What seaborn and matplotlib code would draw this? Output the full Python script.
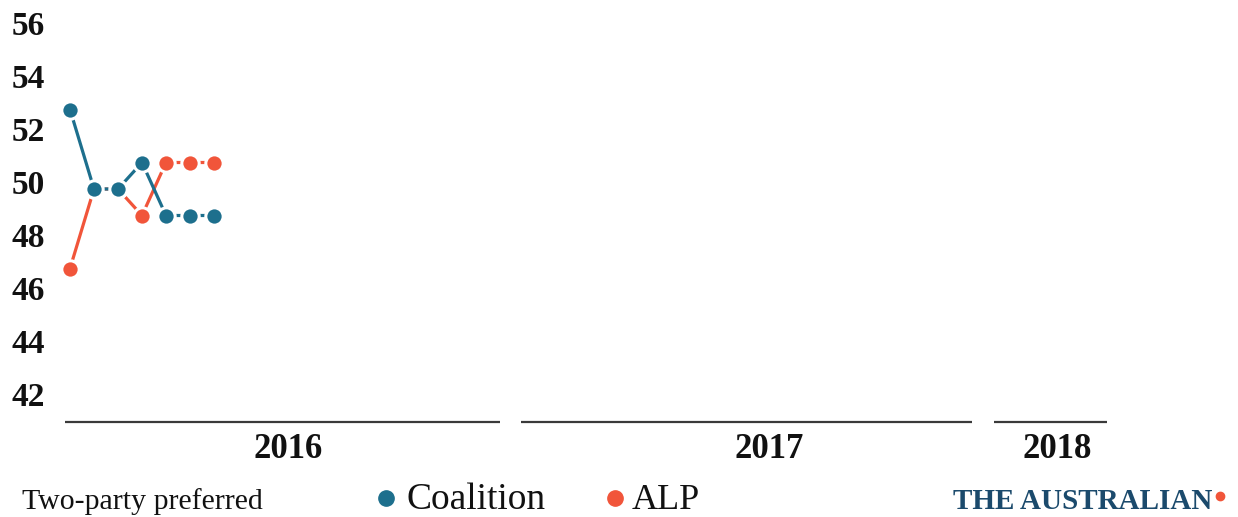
import matplotlib
matplotlib.use("Agg")
import matplotlib.pyplot as plt
import matplotlib.transforms as mtransforms
import seaborn as sns
import pandas as pd
from matplotlib.lines import Line2D

# ---- data ----
poll_index = [0, 1, 2, 3, 4, 5, 6]
coalition = [53, 50, 50, 51, 49, 49, 49]
alp = [47, 50, 50, 49, 51, 51, 51]
years = ["2016", "2017", "2018"]
year_start = [-0.2, 18.8, 38.5]
year_end = [17.9, 37.6, 43.2]
year_label_x = [9.08, 29.15, 41.15]
y_ticks = [42, 44, 46, 48, 50, 52, 54, 56]

COAL = "#1d6f8d"
ALPC = "#f1553a"

df = pd.DataFrame({
    "poll": poll_index * 2,
    "value": coalition + alp,
    "party": ["Coalition"] * len(coalition) + ["ALP"] * len(alp),
})

sns.set_theme(style="white")
plt.rcParams["font.family"] = ["Liberation Serif", "DejaVu Serif"]

W, H = 1238, 517
fig = plt.figure(figsize=(W / 100, H / 100), dpi=100)
ax = fig.add_axes([55 / W, 0, 1 - 55 / W, 1])

sns.lineplot(data=df, x="poll", y="value", hue="party",
             palette={"Coalition": COAL, "ALP": ALPC},
             hue_order=["ALP", "Coalition"],
             marker="o", markersize=12.5, markeredgecolor="white",
             markeredgewidth=2.2, linewidth=2.3, legend=False, ax=ax,
             zorder=3)

ax.set_xlim((55 - 70) / 24, (W - 70) / 24)
ax.set_ylim(50 - (H - 189) / 26.5, 50 + 189 / 26.5)

for s in ax.spines.values():
    s.set_visible(False)
ax.set_xticks([])
ax.set_yticks(y_ticks)
ax.set_yticklabels([str(t) for t in y_ticks], fontsize=24, fontweight="bold",
                   color="#111111")
ax.tick_params(axis="y", length=0, pad=7)
shift = mtransforms.ScaledTranslation(0, -5 / 100, fig.dpi_scale_trans)
for lbl in ax.get_yticklabels():
    lbl.set_va("baseline")
    lbl.set_transform(lbl.get_transform() + shift)
ax.set_xlabel("")
ax.set_ylabel("")
ax.grid(False)

line_y = 50 - (422 - 189) / 26.5
label_y = 50 - (450 - 189) / 26.5
for name, a, b, lx in zip(years, year_start, year_end, year_label_x):
    ax.plot([a, b], [line_y, line_y], color="#3a3a3a", lw=1.6,
            solid_capstyle="butt", clip_on=False)
    ax.text(lx, label_y, name, ha="center", va="center",
            fontsize=25, fontweight="bold", color="#111111")

# ---- legend / footer ----
base = 1 - 509 / H
fig.text(22 / W, base, "Two-party preferred", fontsize=21.5, va="baseline",
         ha="left", color="#111111")
for cx, col, txt, tx, fs in [(386, COAL, "Coalition", 406, 27),
                             (615, ALPC, "ALP", 632, 26)]:
    fig.add_artist(Line2D([cx / W], [1 - 498 / H], marker="o", markersize=11,
                          color=col, markeredgecolor=col,
                          transform=fig.transFigure))
    fig.text(tx / W, base, txt, fontsize=fs, va="baseline", ha="left",
             color="#111111")

fig.text(953 / W, base, "THE AUSTRALIAN", fontsize=21, fontweight="bold",
         va="baseline", ha="left", color="#1b4a6c")
fig.add_artist(Line2D([1220 / W], [1 - 496 / H], marker="o", markersize=6,
                      color=ALPC, transform=fig.transFigure))

fig.savefig("out.png", dpi=100)
